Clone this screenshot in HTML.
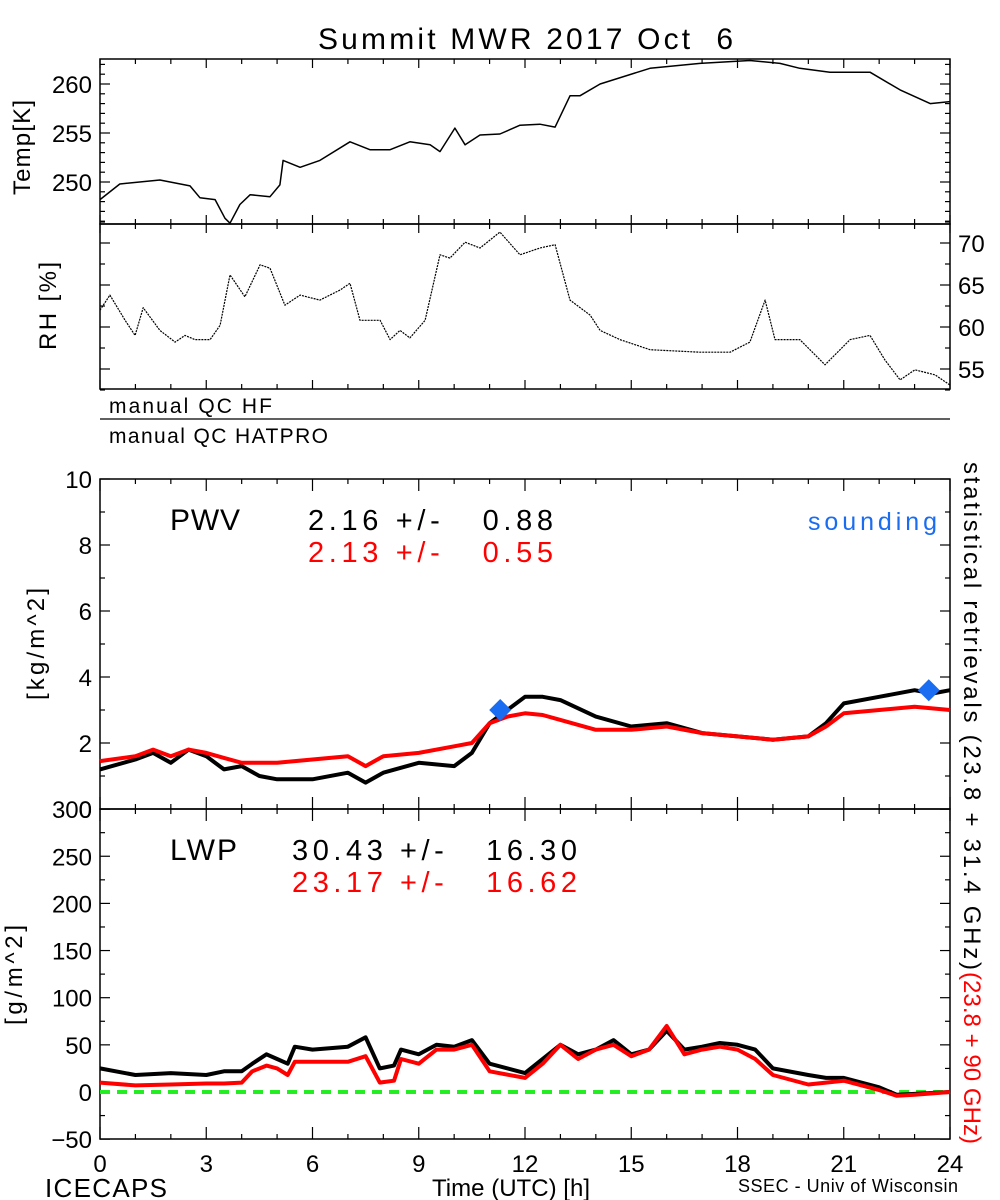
<!DOCTYPE html>
<html><head><meta charset="utf-8"><style>
body{margin:0;background:#fff}
svg{display:block}
text{font-family:"Liberation Sans",sans-serif;white-space:pre}
</style></head><body>
<svg id="chart" width="1000" height="1200" viewBox="0 0 1000 1200" xmlns="http://www.w3.org/2000/svg">
<text x="318" y="49" font-size="30" textLength="415" lengthAdjust="spacing">Summit MWR 2017 Oct  6</text>
<g id="axes"></g>
<g id="marks"></g>
<g id="labels">
<text transform="translate(30,195) rotate(-90)" font-size="24" textLength="95" lengthAdjust="spacing">Temp[K]</text>
<text transform="translate(56,350) rotate(-90)" font-size="24" textLength="88" lengthAdjust="spacing">RH [%]</text>
<text x="109" y="413" font-size="21" textLength="163" lengthAdjust="spacing">manual QC HF</text>
<text x="109" y="443" font-size="21" textLength="219" lengthAdjust="spacing">manual QC HATPRO</text>
<text transform="translate(44,700) rotate(-90)" font-size="24" textLength="112" lengthAdjust="spacing">[kg/m^2]</text>
<text transform="translate(22,1025) rotate(-90)" font-size="24" textLength="100" lengthAdjust="spacing">[g/m^2]</text>
<text x="170" y="530" font-size="30" textLength="70" lengthAdjust="spacing">PWV</text>
<text x="308" y="530" font-size="29" textLength="245" lengthAdjust="spacing">2.16 +/-   0.88</text>
<text x="308" y="562" font-size="29" fill="#ff0000" textLength="245" lengthAdjust="spacing">2.13 +/-   0.55</text>
<text x="808" y="530" font-size="25" fill="#1a6cf0" textLength="129" lengthAdjust="spacing">sounding</text>
<text x="170" y="860" font-size="30" textLength="67" lengthAdjust="spacing">LWP</text>
<text x="292" y="860" font-size="29" textLength="285" lengthAdjust="spacing">30.43 +/-   16.30</text>
<text x="292" y="892" font-size="29" fill="#ff0000" textLength="285" lengthAdjust="spacing">23.17 +/-   16.62</text>
<text transform="translate(964,462) rotate(90)" font-size="24" textLength="508" lengthAdjust="spacing">statistical retrievals (23.8 + 31.4 GHz)</text>
<text transform="translate(964,972) rotate(90)" font-size="24" fill="#ff0000" textLength="172" lengthAdjust="spacing">(23.8 + 90 GHz)</text>
<text x="432" y="1196" font-size="24" textLength="158" lengthAdjust="spacing">Time (UTC) [h]</text>
<text x="45" y="1197" font-size="26" textLength="122" lengthAdjust="spacing">ICECAPS</text>
<text x="738" y="1192" font-size="18" textLength="220" lengthAdjust="spacing">SSEC - Univ of Wisconsin</text>
</g>
</svg>
<script>
// ---- data ----
const tempHours=[0,0.56,1.69,2.54,2.82,3.25,3.53,3.67,3.95,4.24,4.8,5.08,5.17,5.65,6.21,7.06,7.62,8.19,8.75,9.32,9.6,10.02,10.31,10.73,11.29,11.86,12.42,12.85,13.27,13.55,14.12,15.53,16.94,18.35,19.2,19.76,20.61,21.74,22.59,23.44,24];
const tempValues=[248.2,249.8,250.2,249.6,248.4,248.2,246.3,245.8,247.7,248.7,248.5,249.7,252.2,251.5,252.2,254.1,253.3,253.3,254.1,253.8,253.1,255.5,253.8,254.8,254.9,255.8,255.9,255.6,258.8,258.8,260.0,261.6,262.1,262.4,262.1,261.6,261.2,261.2,259.4,258.0,258.2];
const rhHours=[0,0.28,0.71,0.99,1.22,1.69,2.12,2.4,2.68,3.11,3.39,3.67,4.09,4.52,4.8,5.22,5.65,6.21,6.78,7.06,7.34,7.91,8.19,8.47,8.75,9.18,9.6,9.88,10.31,10.73,11.29,11.86,12.42,12.85,13.27,13.84,14.12,14.68,15.53,16.94,17.79,18.35,18.78,19.06,19.76,20.47,21.18,21.74,22.16,22.59,23.01,23.58,24];
const rhValues=[62.0,63.8,60.8,59.0,62.3,59.6,58.2,59.0,58.5,58.5,60.2,66.2,63.6,67.4,67.0,62.6,63.8,63.2,64.4,65.2,60.8,60.8,58.5,59.6,58.7,60.8,68.6,68.2,70.1,69.4,71.3,68.6,69.4,69.8,63.2,61.4,59.6,58.5,57.3,57.0,57.0,58.2,63.2,58.5,58.5,55.5,58.5,59.0,56.1,53.7,54.9,54.3,53.1];
const pwvHours=[0,1,1.5,2,2.5,3,3.5,4,4.5,5,6,7,7.5,8,9,10,10.5,11,11.5,12,12.5,13,14,15,16,17,18,19,20,20.5,21,22,23,23.5,24];
const pwvBlack=[1.2,1.5,1.7,1.4,1.8,1.6,1.2,1.3,1.0,0.9,0.9,1.1,0.8,1.1,1.4,1.3,1.7,2.6,3.0,3.4,3.4,3.3,2.8,2.5,2.6,2.3,2.2,2.1,2.2,2.6,3.2,3.4,3.6,3.5,3.6];
const pwvRed=[1.45,1.6,1.8,1.6,1.8,1.7,1.55,1.4,1.4,1.4,1.5,1.6,1.3,1.6,1.7,1.9,2.0,2.6,2.8,2.9,2.85,2.7,2.4,2.4,2.5,2.3,2.2,2.1,2.2,2.5,2.9,3.0,3.1,3.05,3.0];
const soundHours=[11.3,23.4];
const soundValues=[3.0,3.6];
const lwpHours=[0,1,2,3,3.5,4,4.3,4.7,5,5.3,5.5,6,7,7.5,7.9,8.3,8.5,9,9.5,10,10.5,11,12,12.5,13,13.5,14,14.5,15,15.5,16,16.5,17,17.5,18,18.5,19,20,20.5,21,22,22.5,23,24];
const lwpBlack=[25,18,20,18,22,22,30,40,35,30,48,45,48,58,25,28,45,40,50,48,55,30,20,35,50,40,45,55,40,45,65,45,48,52,50,45,25,18,15,15,5,-3,-2,0];
const lwpRed=[10,7,8,9,9,10,22,28,25,18,32,32,32,38,10,12,35,30,45,45,50,22,15,30,50,35,45,50,38,45,70,40,45,48,45,35,18,8,10,12,2,-4,-3,0];
const xTicks=[0,3,6,9,12,15,18,21,24];
const tempTicks=[250,255,260];
const rhTicks=[55,60,65,70];
const pwvTicks=[0,2,4,6,8,10];
const lwpTicks=[-50,0,50,100,150,200,250,300];

// ---- scales ----
const X0=100,X1=950;
const xs=h=>X0+(X1-X0)*h/24;
const yT=v=>84+(260-v)*9.8;
const yRH=v=>243+(70-v)*8.4;
const yP=v=>809-(v/10)*330;
const yL=v=>1092-v*0.943;
const NS='http://www.w3.org/2000/svg';
const axes=document.getElementById('axes'),marks=document.getElementById('marks');
function mk(tag,at,parent){const e=document.createElementNS(NS,tag);for(const k in at)e.setAttribute(k,at[k]);parent.appendChild(e);return e;}
function line(x1,y1,x2,y2,w,c){return mk('line',{x1,y1,x2,y2,stroke:c||'#000','stroke-width':w||1.3},axes);}

const panels=[['temp-panel',59,224],['rh-panel',224,389],['pwv-panel',479,809],['lwp-panel',809,1139]];
panels.forEach(p=>{
  const r=mk('rect',{x:X0,y:p[1],width:X1-X0,height:p[2]-p[1],fill:'none',stroke:'#000','stroke-width':1.5},axes);
  
  
  for(let h=0;h<=24;h++){
    const big=h%3===0, L=big?(p[0]==='pwv-panel'||p[0]==='lwp-panel'?12:9):5;
    line(xs(h),p[1],xs(h),p[1]+L,1.2);
    line(xs(h),p[2],xs(h),p[2]-L,1.2);
  }
});
line(X0,419,X1,419,1.3);

xTicks.forEach(t=>{
  const e=mk('text',{x:xs(t),y:1172,'font-size':24,'text-anchor':'middle'},axes);
  e.textContent=t;
  
  
});
function yLabels(ticks,f,x,anchor,name,minorStep,lo,hi){
  ticks.forEach(t=>{
    const e=mk('text',{x:x,y:f(t)+9,'font-size':24,'text-anchor':anchor},axes);
    e.textContent=(t<0?'\u2212'+(-t):t);
    
    
  });
  for(let v=lo;v<=hi+1e-9;v+=minorStep){
    const major=ticks.some(t=>Math.abs(t-v)<1e-6);
    const L=major?10:5,y=f(v);
    line(X0,y,X0+L,y,1.2);
    line(X1,y,X1-L,y,1.2);
  }
}
yLabels(tempTicks,yT,92,'end','temp-tick-label',1,246,262);
yLabels(rhTicks,yRH,958,'start','rh-tick-label',2.5,52.5,72.5);
yLabels(pwvTicks,yP,92,'end','pwv-tick-label',1,0,10);
yLabels(lwpTicks,yL,92,'end','lwp-tick-label',25,-50,300);

function series(hours,vals,f,color,w,name,dash){
  const pts=hours.map((h,i)=>xs(h).toFixed(1)+','+f(vals[i]).toFixed(1)).join(' ');
  const at={points:pts,fill:'none',stroke:color,'stroke-width':w,'stroke-linejoin':'round'};
  if(dash)at['stroke-dasharray']=dash;
  const e=mk('polyline',at,marks);
  
  
}
const z=mk('line',{x1:X0,y1:yL(0),x2:X1,y2:yL(0),stroke:'#22ee22','stroke-width':4,'stroke-dasharray':'10,7'},marks);


series(tempHours,tempValues,yT,'#000',1.5,'temp-line');
series(rhHours,rhValues,yRH,'#000',1.2,'rh-line','2,1');
series(pwvHours,pwvBlack,yP,'#000',4,'pwv-black-line');
series(pwvHours,pwvRed,yP,'#ff0000',4,'pwv-red-line');
series(lwpHours,lwpBlack,yL,'#000',4,'lwp-black-line');
series(lwpHours,lwpRed,yL,'#ff0000',4,'lwp-red-line');
soundHours.forEach((h,i)=>{
  const cx=xs(h),cy=yP(soundValues[i]),r=11;
  const d=mk('polygon',{points:`${cx},${cy-r} ${cx+r},${cy} ${cx},${cy+r} ${cx-r},${cy}`,fill:'#1a6cf0'},marks);
  
  
});
</script>
</body></html>
